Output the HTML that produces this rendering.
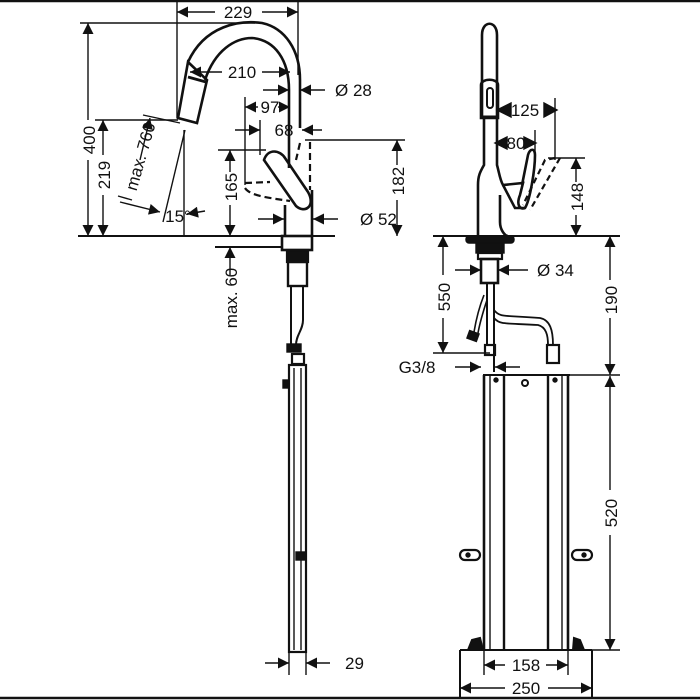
<!DOCTYPE html>
<html><head><style>
html,body{margin:0;padding:0;background:#fff}
svg{display:block}
text{font-family:"Liberation Sans",sans-serif;font-size:17px;fill:#111}
</style></head><body>
<svg width="700" height="700" viewBox="0 0 700 700" xmlns="http://www.w3.org/2000/svg">
<defs>
<marker id="a" viewBox="0 0 10 10" refX="10" refY="5" markerWidth="14" markerHeight="11" markerUnits="userSpaceOnUse" orient="auto"><path d="M0,0L10,5L0,10z" fill="#111"/></marker>
</defs>
<g stroke="#111" fill="none" stroke-width="1.4">
<line x1="0" y1="1" x2="700" y2="1" stroke-width="2.5"/>
<line x1="0" y1="698" x2="700" y2="698" stroke-width="2.5"/>

<!-- LEFT VIEW -->
<line x1="177" y1="0" x2="177" y2="118"/><line x1="298" y1="0" x2="298" y2="75"/>
<line x1="215" y1="12" x2="177" y2="12" marker-end="url(#a)"/><line x1="262" y1="12" x2="298" y2="12" marker-end="url(#a)"/>
<line x1="80" y1="23" x2="255" y2="23"/>
<line x1="88" y1="120" x2="88" y2="23" marker-end="url(#a)"/><line x1="88" y1="160" x2="88" y2="236" marker-end="url(#a)"/>
<line x1="95" y1="120" x2="178" y2="120"/>
<line x1="103" y1="155" x2="103" y2="120" marker-end="url(#a)"/><line x1="103" y1="195" x2="103" y2="236" marker-end="url(#a)"/>
<line x1="78" y1="236" x2="335" y2="236" stroke-width="2"/>
<line x1="215" y1="247" x2="282" y2="247" stroke-width="2"/>
<path d="M188,62 C205,25 240,20 262,23 C285,28 300,50 300,80 L300,128" stroke-width="2.6"/>
<path d="M205,80 C215,50 235,38 252,38 C275,40 289,60 289,90 L289,168" stroke-width="2.6"/>
<path d="M188,62 L207,80 L197,123 L178,118 Z" stroke-width="2.6"/>
<line x1="188" y1="77" x2="206" y2="82" stroke-width="2.8"/>
<line x1="222" y1="72" x2="190" y2="72" marker-end="url(#a)"/><line x1="262" y1="72" x2="290" y2="72" marker-end="url(#a)"/>
<line x1="263" y1="90" x2="289" y2="90" marker-end="url(#a)"/><line x1="325" y1="90" x2="300" y2="90" marker-end="url(#a)"/>
<line x1="245" y1="97" x2="245" y2="185"/>
<line x1="258" y1="107" x2="245" y2="107" marker-end="url(#a)"/><line x1="278" y1="107" x2="290" y2="107" marker-end="url(#a)"/>
<line x1="260" y1="120" x2="260" y2="155"/>
<line x1="235" y1="130" x2="260" y2="130" marker-end="url(#a)"/><line x1="322" y1="130" x2="302" y2="130" marker-end="url(#a)"/>
<line x1="305" y1="140" x2="405" y2="140"/>
<line x1="397" y1="165" x2="397" y2="140" marker-end="url(#a)"/><line x1="397" y1="200" x2="397" y2="236" marker-end="url(#a)"/>
<line x1="218" y1="150" x2="266" y2="150"/>
<line x1="230" y1="172" x2="230" y2="150" marker-end="url(#a)"/><line x1="230" y1="205" x2="230" y2="236" marker-end="url(#a)"/>
<path d="M264,160 C268,148 280,150 285,158 L308,192 C316,206 305,214 296,206 Z" stroke-width="2.6"/>
<path d="M285,205 L285,236 M312,190 L312,236" stroke-width="2.6"/>
<path d="M245,183 L270,182 M245,188 C250,196 270,198 290,201" stroke-width="2.2" stroke-dasharray="7,4"/>
<path d="M310,142 L310,190 M300,143 L296,160" stroke-width="2.2" stroke-dasharray="7,4"/>
<line x1="258" y1="219" x2="284" y2="219" marker-end="url(#a)"/><line x1="338" y1="219" x2="313" y2="219" marker-end="url(#a)"/>
<line x1="143" y1="115" x2="180" y2="123"/>
<line x1="185" y1="130" x2="163" y2="222"/>
<line x1="184" y1="130" x2="184" y2="236"/>
<line x1="140" y1="160" x2="150" y2="118" marker-end="url(#a)"/>
<line x1="120" y1="202" x2="160" y2="212" marker-end="url(#a)"/>
<line x1="118" y1="196" x2="132" y2="200"/>
<line x1="205" y1="211" x2="187" y2="214" marker-end="url(#a)"/>
<line x1="230" y1="275" x2="230" y2="247" marker-end="url(#a)"/>
<rect x="282" y="236" width="30" height="14" stroke-width="2.6"/>
<rect x="287" y="250" width="21" height="12" stroke-width="2.2" fill="#111"/>
<rect x="288" y="262" width="19" height="24" stroke-width="2.4"/>
<path d="M291,286 L291,345 M303,286 L303,320 C303,330 296,335 296,345" stroke-width="2"/>
<rect x="287" y="344" width="14" height="8" fill="#111"/>
<rect x="292" y="354" width="12" height="10" stroke-width="2.2"/>
<rect x="289" y="365" width="17" height="287" stroke-width="2.2"/>
<line x1="294" y1="368" x2="294" y2="650"/><line x1="301" y1="368" x2="301" y2="650"/>
<rect x="283" y="380" width="5" height="8" fill="#111"/>
<rect x="296" y="552" width="10" height="8" fill="#111"/>
<line x1="289" y1="652" x2="289" y2="675"/><line x1="306" y1="652" x2="306" y2="675"/>
<line x1="265" y1="663" x2="289" y2="663" marker-end="url(#a)"/><line x1="330" y1="663" x2="306" y2="663" marker-end="url(#a)"/>

<!-- RIGHT VIEW -->
<path d="M482,118 L482,35 C482,20 497,20 497,35 L497,118" stroke-width="2.6"/>
<path d="M481,85 C481,78 498,78 498,85 L498,118 L481,118 Z" stroke-width="2.6"/>
<rect x="487" y="88" width="6" height="20" rx="3" stroke-width="2"/>
<line x1="481" y1="117" x2="498" y2="117" stroke-width="3"/>
<path d="M484,118 L484,165 C480,172 478,176 478,185 L478,236" stroke-width="2.6"/>
<path d="M497,118 L497,165 C499,172 500,180 503,185 L523,183 L520,195 C516,205 520,210 525,208 C530,200 535,170 535,155 C535,148 530,148 528,155 L522,185" stroke-width="2.6"/>
<path d="M500,195 L500,222 C500,230 505,236 508,236 M503,185 L515,208 L525,208" stroke-width="2.6"/>
<path d="M555,158 L545,160 L523,205 M560,158 L530,210" stroke-width="2.2" stroke-dasharray="6,4"/>
<line x1="555" y1="98" x2="555" y2="160"/>
<polygon points="511,103 497,110 511,117" fill="#111"/>
<polygon points="544,103 557,110 544,117" fill="#111"/>
<line x1="535" y1="130" x2="535" y2="158"/>
<polygon points="507,137 495,143 507,149" fill="#111"/>
<polygon points="524,137 536,143 524,149" fill="#111"/>
<line x1="548" y1="158" x2="585" y2="158"/>
<line x1="576" y1="182" x2="576" y2="158" marker-end="url(#a)"/><line x1="576" y1="215" x2="576" y2="236" marker-end="url(#a)"/>
<line x1="433" y1="236" x2="620" y2="236" stroke-width="2"/>
<rect x="466" y="236" width="48" height="7" rx="3" fill="#111"/>
<rect x="476" y="243" width="28" height="10" fill="#111"/>
<rect x="478" y="253" width="24" height="6" stroke-width="2.2"/>
<rect x="481" y="259" width="17" height="24" stroke-width="2.6"/>
<line x1="455" y1="270" x2="481" y2="270" marker-end="url(#a)"/><line x1="528" y1="270" x2="498" y2="270" marker-end="url(#a)"/>
<line x1="433" y1="353" x2="490" y2="353"/>
<line x1="443" y1="275" x2="443" y2="236" marker-end="url(#a)"/><line x1="443" y1="318" x2="443" y2="353" marker-end="url(#a)"/>
<line x1="610" y1="280" x2="610" y2="236" marker-end="url(#a)"/><line x1="610" y1="318" x2="610" y2="375" marker-end="url(#a)"/>
<line x1="540" y1="375" x2="620" y2="375"/>
<line x1="610" y1="490" x2="610" y2="376" marker-end="url(#a)"/><line x1="610" y1="535" x2="610" y2="650" marker-end="url(#a)"/>
<line x1="592" y1="650" x2="620" y2="650"/>
<path d="M487,283 L487,345 M494,283 L494,372" stroke-width="2"/>
<path d="M484,295 C480,305 476,320 474,332 M487,300 C483,312 480,322 478,333" stroke-width="1.6"/>
<rect x="468" y="332" width="10" height="8" fill="#111" transform="rotate(20 473 336)"/>
<path d="M494,310 C500,318 505,315 540,318 C550,320 553,330 553,345 M494,318 C500,325 505,323 538,325 C546,327 548,335 548,345" stroke-width="1.8"/>
<rect x="547" y="345" width="12" height="18" stroke-width="2.2"/>
<rect x="485" y="345" width="10" height="10" stroke-width="2.2"/>
<line x1="455" y1="367" x2="481" y2="367" marker-end="url(#a)"/><line x1="520" y1="367" x2="495" y2="367" marker-end="url(#a)"/>
<line x1="483" y1="375" x2="570" y2="375" stroke-width="2"/>
<line x1="484" y1="375" x2="484" y2="650" stroke-width="2.6"/><line x1="490" y1="375" x2="490" y2="650"/><line x1="504" y1="375" x2="504" y2="650" stroke-width="2.4"/>
<line x1="548" y1="375" x2="548" y2="650" stroke-width="2.4"/><line x1="562" y1="375" x2="562" y2="650"/><line x1="568" y1="375" x2="568" y2="650" stroke-width="2.6"/>
<circle cx="496" cy="380" r="2" fill="#111"/><circle cx="555" cy="380" r="2" fill="#111"/><circle cx="525" cy="383" r="3" stroke-width="2"/>
<rect x="460" y="550" width="20" height="10" rx="5" stroke-width="2.2"/><circle cx="468" cy="555" r="2" fill="#111"/>
<rect x="572" y="550" width="20" height="10" rx="5" stroke-width="2.2"/><circle cx="584" cy="555" r="2" fill="#111"/>
<path d="M460,650 L592,650 M460,650 L460,698 M592,650 L592,698" stroke-width="2"/>
<path d="M468,650 L472,640 L480,638 L483,650 M573,650 L574,638 L580,640 L584,650" stroke-width="2" fill="#111"/>
<line x1="484" y1="650" x2="484" y2="675"/><line x1="568" y1="650" x2="568" y2="675"/>
<line x1="505" y1="665" x2="484" y2="665" marker-end="url(#a)"/><line x1="546" y1="665" x2="568" y2="665" marker-end="url(#a)"/>
<line x1="505" y1="688" x2="460" y2="688" marker-end="url(#a)"/><line x1="548" y1="688" x2="592" y2="688" marker-end="url(#a)"/>
</g>

<text x="238" y="18" text-anchor="middle">229</text>
<text x="242" y="78" text-anchor="middle">210</text>
<text x="335" y="96">Ø 28</text>
<text x="270" y="113" text-anchor="middle">97</text>
<text x="284" y="136" text-anchor="middle">68</text>
<text x="360" y="225">Ø 52</text>
<text x="178" y="222" text-anchor="middle">15°</text>
<text x="345" y="669">29</text>
<text transform="translate(95,140) rotate(-90)" text-anchor="middle">400</text>
<text transform="translate(110,175) rotate(-90)" text-anchor="middle">219</text>
<text transform="translate(237,187) rotate(-90)" text-anchor="middle">165</text>
<text transform="translate(404,181) rotate(-90)" text-anchor="middle">182</text>
<text transform="translate(146,158) rotate(-74)" text-anchor="middle">max. 760</text>
<text transform="translate(237,298) rotate(-90)" text-anchor="middle">max. 60</text>
<text x="525" y="116" text-anchor="middle">125</text>
<text x="516" y="149" text-anchor="middle">80</text>
<text x="537" y="276">Ø 34</text>
<text x="417" y="373" text-anchor="middle">G3/8</text>
<text transform="translate(583,197) rotate(-90)" text-anchor="middle">148</text>
<text transform="translate(450,297) rotate(-90)" text-anchor="middle">550</text>
<text transform="translate(617,300) rotate(-90)" text-anchor="middle">190</text>
<text transform="translate(617,513) rotate(-90)" text-anchor="middle">520</text>
<text x="526" y="671" text-anchor="middle">158</text>
<text x="526" y="694" text-anchor="middle">250</text>
</svg>
</body></html>
